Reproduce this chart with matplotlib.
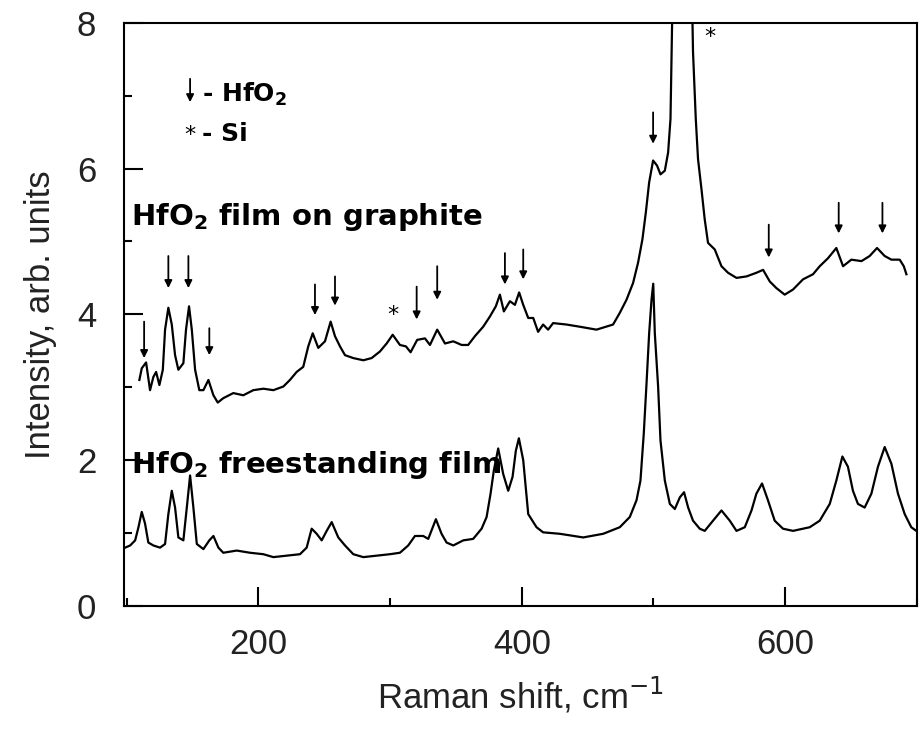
import matplotlib
matplotlib.use('Agg')
import matplotlib.pyplot as plt
from matplotlib.ticker import MultipleLocator

plt.rcParams['font.family'] = ['Liberation Sans', 'DejaVu Sans']
plt.rcParams['mathtext.fontset'] = 'dejavusans'

# HfO2 film on graphite (Raman shift, intensity)
graphite_x = [109.7, 111.5, 114.8, 117.8, 120.3, 122.4, 124.9, 127.5, 129.2, 131.7,
              134.3, 136.8, 139.3, 143.1, 145.1, 147.4, 149.5, 152.0, 155.2, 158.3,
              162.1, 165.9, 169.2, 173.4, 181.0, 188.6, 196.2, 203.8, 211.4, 219.0,
              224.0, 229.1, 234.1, 237.9, 241.3, 245.5, 250.6, 254.9, 258.2, 262.0,
              265.8, 272.1, 279.7, 286.0, 292.3, 297.4, 302.0, 307.5, 312.1, 315.6,
              320.6, 326.5, 330.3, 335.8, 341.7, 348.0, 354.3, 359.3, 364.4, 370.7,
              375.8, 380.3, 383.4, 386.4, 391.0, 394.8, 398.0, 401.1, 404.9, 408.7,
              412.4, 416.2, 420.0, 423.8, 434.0, 444.1, 456.7, 469.3, 474.4, 479.5,
              484.5, 488.3, 491.6, 494.2, 496.7, 499.7, 502.7, 505.3, 508.6, 511.1,
              512.9, 514.4, 518.0, 522.0, 526.0, 529.3, 530.0, 532.1, 533.8, 536.4,
              538.9, 541.4, 546.5, 551.6, 556.6, 563.0, 570.6, 578.1, 583.2, 588.3,
              593.3, 599.6, 605.9, 613.5, 621.1, 626.2, 632.5, 638.8, 643.9, 650.2,
              657.9, 664.1, 669.7, 675.5, 680.6, 686.9, 690.0, 692.0]
graphite_y = [3.10, 3.26, 3.34, 2.96, 3.14, 3.21, 3.03, 3.24, 3.79, 4.09,
              3.86, 3.44, 3.24, 3.33, 3.79, 4.11, 3.79, 3.24, 2.96, 2.96,
              3.10, 2.89, 2.79, 2.85, 2.92, 2.89, 2.96, 2.98, 2.96, 3.01,
              3.10, 3.21, 3.28, 3.56, 3.74, 3.54, 3.63, 3.90, 3.70, 3.56,
              3.44, 3.40, 3.37, 3.40, 3.49, 3.60, 3.72, 3.58, 3.56, 3.48,
              3.65, 3.67, 3.58, 3.79, 3.60, 3.63, 3.58, 3.58, 3.70, 3.83,
              3.97, 4.11, 4.27, 4.04, 4.18, 4.13, 4.30, 4.13, 3.95, 3.95,
              3.76, 3.86, 3.79, 3.88, 3.86, 3.83, 3.79, 3.86, 4.02, 4.20,
              4.43, 4.71, 5.03, 5.40, 5.81, 6.11, 6.04, 5.92, 5.97, 6.22,
              6.68, 8.30, 11.0, 12.0, 11.0, 8.30, 7.60, 6.68, 6.13, 5.72,
              5.30, 4.98, 4.89, 4.66, 4.57, 4.50, 4.52, 4.57, 4.61, 4.45,
              4.36, 4.27, 4.34, 4.48, 4.55, 4.66, 4.77, 4.91, 4.66, 4.75,
              4.73, 4.80, 4.91, 4.80, 4.75, 4.75, 4.66, 4.55]

# HfO2 freestanding film
free_x = [98.9, 102.7, 106.5, 109.0, 111.5, 114.0, 116.5, 120.3, 125.4, 129.2,
          131.7, 134.3, 136.8, 139.3, 143.1, 145.7, 148.2, 150.7, 153.3, 158.3,
          162.8, 165.9, 169.7, 173.4, 183.6, 193.7, 203.8, 211.4, 221.5, 231.6,
          236.7, 240.5, 244.3, 248.1, 251.9, 255.7, 260.7, 265.8, 272.1, 279.7,
          289.8, 299.9, 307.5, 313.8, 318.9, 325.2, 329.0, 334.8, 339.1, 342.9,
          348.0, 355.6, 363.1, 369.5, 373.3, 376.3, 378.8, 382.1, 385.9, 389.7,
          393.0, 395.5, 397.8, 401.1, 404.9, 411.2, 416.2, 428.9, 446.6, 461.8,
          474.4, 482.0, 487.1, 490.1, 492.6, 494.7, 496.7, 498.5, 499.8, 501.0,
          503.5, 505.3, 508.6, 512.4, 516.2, 520.0, 523.2, 526.3, 530.0, 535.1,
          538.9, 545.2, 551.6, 557.9, 563.0, 569.3, 574.4, 578.1, 582.4, 586.9,
          592.0, 598.3, 605.9, 618.6, 626.2, 633.8, 638.8, 643.4, 647.6, 651.4,
          655.2, 660.3, 665.4, 670.4, 675.5, 680.6, 685.6, 690.7, 695.7, 699.5]
free_y = [0.80, 0.83, 0.90, 1.08, 1.29, 1.13, 0.87, 0.83, 0.80, 0.85,
          1.26, 1.58, 1.35, 0.94, 0.90, 1.35, 1.79, 1.35, 0.85, 0.78,
          0.90, 0.96, 0.80, 0.73, 0.76, 0.73, 0.71, 0.67, 0.69, 0.71,
          0.80, 1.06, 0.99, 0.90, 1.03, 1.15, 0.94, 0.83, 0.71, 0.67,
          0.69, 0.71, 0.73, 0.83, 0.96, 0.96, 0.92, 1.19, 0.99, 0.87,
          0.83, 0.90, 0.92, 1.06, 1.22, 1.54, 1.86, 2.16, 1.81, 1.58,
          1.77, 2.13, 2.30, 2.00, 1.26, 1.08, 1.01, 0.99, 0.94, 0.99,
          1.08, 1.22, 1.45, 1.72, 2.36, 3.05, 3.74, 4.20, 4.42, 3.74,
          3.01, 2.27, 1.72, 1.40, 1.33, 1.49, 1.56, 1.35, 1.17, 1.06,
          1.03, 1.17, 1.31, 1.17, 1.03, 1.08, 1.31, 1.54, 1.68, 1.45,
          1.17, 1.06, 1.03, 1.08, 1.17, 1.40, 1.72, 2.05, 1.91, 1.58,
          1.40, 1.35, 1.54, 1.91, 2.18, 1.95, 1.54, 1.26, 1.08, 1.03]

# HfO2 line markers (x, arrow top, arrow tip)
arrow_x = [113.3, 131.7, 146.9, 162.8, 243.0, 258.2, 320.2, 335.8, 387.2, 401.1,
           499.7, 587.5, 640.6, 673.8]
arrow_top = [3.90, 4.80, 4.80, 3.81, 4.41, 4.52, 4.38, 4.66, 4.84, 4.89,
             6.77, 5.23, 5.53, 5.53]
arrow_tip = [3.40, 4.36, 4.36, 3.44, 3.99, 4.12, 3.93, 4.20, 4.41, 4.48,
             6.34, 4.78, 5.11, 5.11]

# Si markers
si_x = [302.4, 542.7]
si_y = [3.99, 7.81]


fig = plt.figure(figsize=(9.21, 7.30), dpi=100)
ax = fig.add_axes([0.1346, 0.1699, 0.8610, 0.7990])

ax.plot(graphite_x, graphite_y, color='black', lw=1.6)
ax.plot(free_x, free_y, color='black', lw=1.6)

arrow_style = dict(arrowstyle='-|>', color='black', lw=1.3, mutation_scale=11,
                   shrinkA=0, shrinkB=0)
for x, top, tip in zip(arrow_x, arrow_top, arrow_tip):
    ax.annotate('', xy=(x, tip), xytext=(x, top), arrowprops=arrow_style)

for x, y in zip(si_x, si_y):
    ax.text(x, y, '*', ha='center', va='center', fontsize=16, family='DejaVu Sans')

# legend written by hand
ax.annotate('', xy=(148.2, 6.91), xytext=(148.2, 7.23), arrowprops=arrow_style)
ax.text(157, 7.02, r'- HfO$_\mathbf{2}$', fontsize=18, fontweight='bold',
        family='DejaVu Sans', va='center')
ax.text(148.2, 6.46, '*', ha='center', va='center', fontsize=16, family='DejaVu Sans')
ax.text(157, 6.47, '- Si', fontsize=18, fontweight='bold',
        family='DejaVu Sans', va='center')

ax.text(103, 5.33, r'HfO$_\mathbf{2}$ film on graphite', fontsize=21,
        fontweight='bold', family='DejaVu Sans', va='center')
ax.text(103, 1.93, r'HfO$_\mathbf{2}$ freestanding film', fontsize=21,
        fontweight='bold', family='DejaVu Sans', va='center')

ax.set_xlim(98, 700)
ax.set_ylim(0, 8)
ax.xaxis.set_major_locator(MultipleLocator(200))
ax.xaxis.set_minor_locator(MultipleLocator(100))
ax.yaxis.set_major_locator(MultipleLocator(2))
ax.yaxis.set_minor_locator(MultipleLocator(1))
ax.tick_params(which='both', direction='in', top=False, right=False, width=1.5)
ax.tick_params(which='major', length=14)
ax.tick_params(which='minor', length=6)
ax.tick_params(axis='x', labelsize=25, pad=16)
ax.tick_params(axis='y', labelsize=25, pad=20)
for lab in ax.get_xticklabels() + ax.get_yticklabels():
    lab.set_color('#222222')
for s in ax.spines.values():
    s.set_linewidth(1.5)

ax.set_xlabel(r'Raman shift, cm$^{-1}$', fontsize=25, labelpad=10, color='#222222')
ax.set_ylabel('Intensity, arb. units', fontsize=25, labelpad=14, color='#222222')

fig.savefig('out.png', dpi=100)
